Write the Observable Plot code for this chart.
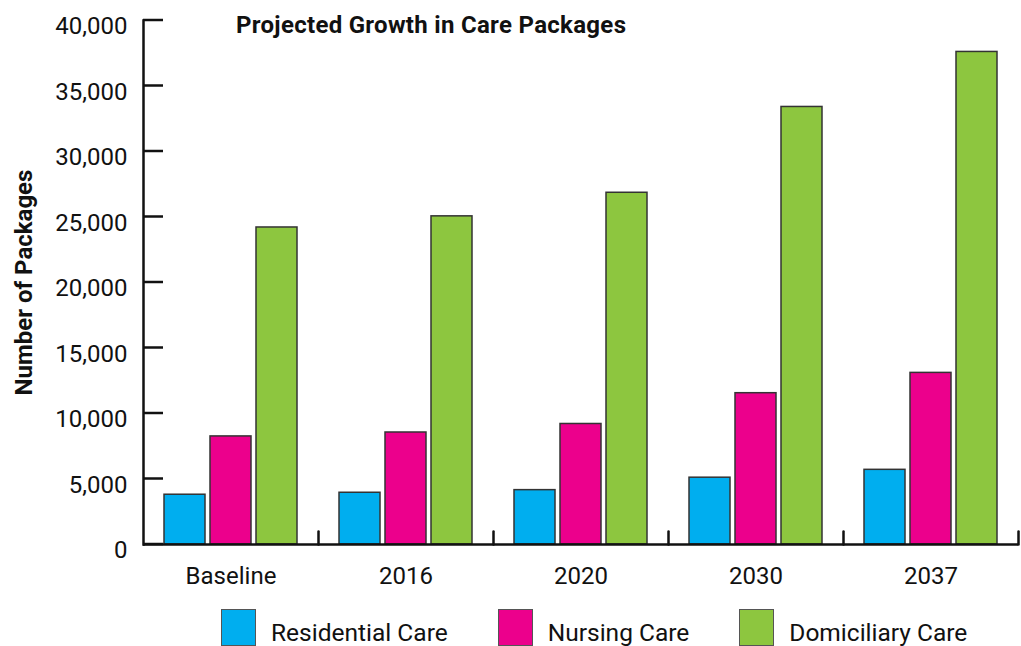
<!DOCTYPE html>
<html>
<head>
<meta charset="utf-8">
<script src="https://cdn.jsdelivr.net/npm/d3@7"></script>
<script src="https://cdn.jsdelivr.net/npm/@observablehq/plot@0.6"></script>
<style>
  body { margin: 0; background: #fff; font-family: Roboto, sans-serif; }
  #wrap { position: relative; width: 1021px; height: 646px; overflow: hidden; }
  #chart { position: absolute; left: 0; top: 0; }
  #title { position: absolute; left: 236px; top: 11px; font-family: Roboto, sans-serif; font-weight: 700; font-size: 24px; letter-spacing: 0.3px; color: #111; white-space: nowrap; }
  #legend { position: absolute; left: 221px; top: 609px; display: flex; align-items: flex-start; }
  .item { display: flex; align-items: flex-start; margin-right: 50px; }
  .sw { width: 35px; height: 37px; box-sizing: border-box; border: 1px solid #555; margin-right: 15px; }
  .lab { font-size: 24.5px; line-height: 36px; margin-top: 6px; color: #111; white-space: nowrap; }
  g[aria-label="y-axis label"] text { font-weight: 700; font-size: 24px; }
</style>
</head>
<body>
<div id="wrap">
  <div id="chart"></div>
  <div id="title">Projected Growth in Care Packages</div>
  <div id="legend"></div>
</div>
<script>
const categories = ["Baseline", "2016", "2020", "2030", "2037"];
const series = ["Residential Care", "Nursing Care", "Domiciliary Care"];
const residential = [3800, 3950, 4150, 5100, 5700];
const nursing = [8250, 8550, 9200, 11550, 13100];
const domiciliary = [24200, 25050, 26850, 33400, 37600];
const yTicks = [0, 5000, 10000, 15000, 20000, 25000, 30000, 35000, 40000];
const colors = ["#00AEEF", "#EC008C", "#8DC63F"];

const valuesBySeries = [residential, nursing, domiciliary];
const table = [];
categories.forEach((c, i) => {
  series.forEach((s, j) => table.push({category: c, series: s, value: valuesBySeries[j][i]}));
});

const vShape = {draw(context, l) { context.moveTo(0, 0); context.lineTo(0, -l); }};

const chart = Plot.plot({
  width: 1021,
  height: 598,
  marginLeft: 143,
  marginRight: 3,
  marginTop: 20,
  marginBottom: 54,
  style: {fontFamily: "Roboto, sans-serif", fontSize: "24px", color: "#111", background: "#fff"},
  fx: {domain: categories, padding: 0, label: null},
  x: {domain: series, paddingInner: 0.1, paddingOuter: 0.43, axis: null},
  y: {domain: [0, 40000]},
  color: {domain: series, range: colors},
  marks: [
    Plot.barY(table, {fx: "category", x: "series", y: "value", fill: "series", stroke: "#333", strokeWidth: 1.5}),
    Plot.ruleY([0], {stroke: "#111", strokeWidth: 2.5}),
    Plot.vector([0], {frameAnchor: "bottom-right", length: 13, rotate: 0, anchor: "start", shape: vShape, stroke: "#111", strokeWidth: 2.5}),
    Plot.frame({anchor: "left", facetAnchor: "left", stroke: "#111", strokeWidth: 2.5}),
    Plot.axisY({ticks: yTicks, tickSize: 0, tickPadding: 16, tickFormat: d3.format(","), dy: 6,
      label: "Number of Packages", labelAnchor: "center", labelArrow: "none", labelOffset: 129}),
    Plot.axisFx({anchor: "bottom", tickSize: 0, tickPadding: 22, label: null})
  ]
});
document.getElementById("chart").appendChild(chart);

// inward-pointing y ticks, positioned with the plot's own y and fx scales
const yScale = Plot.scale({y: chart.scale("y")});
const fxRange = chart.scale("fx").range;
const x0 = Math.min(...fxRange);
d3.select(chart).append("g")
  .attr("aria-label", "y-axis inner tick")
  .attr("stroke", "#111")
  .attr("stroke-width", 2.5)
  .selectAll("line")
  .data(yTicks)
  .join("line")
  .attr("x1", x0)
  .attr("x2", x0 + 20)
  .attr("y1", d => yScale.apply(d))
  .attr("y2", d => yScale.apply(d));

const legend = document.getElementById("legend");
series.forEach((s, j) => {
  const item = document.createElement("div");
  item.className = "item";
  const sw = document.createElement("div");
  sw.className = "sw";
  sw.style.background = colors[j];
  const lab = document.createElement("div");
  lab.className = "lab";
  lab.textContent = s;
  item.appendChild(sw);
  item.appendChild(lab);
  legend.appendChild(item);
});
</script>
</body>
</html>
